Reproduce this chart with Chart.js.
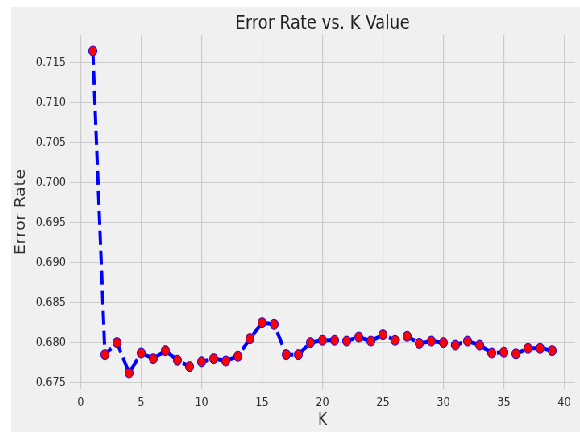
<!DOCTYPE html>
<html>
<head>
<meta charset="utf-8">
<script src="https://cdn.jsdelivr.net/npm/chart.js@4/dist/chart.umd.min.js"></script>
<style>
  html, body { margin: 0; padding: 0; background: #ffffff; overflow: hidden; }
  /* the reference figure is drawn wide and shown squeezed horizontally */
  #wrap {
    position: absolute; left: 11px; top: 7px;
    width: 706px; height: 425px;
    background: #f0f0f0;
    transform: scaleX(0.80595);
    transform-origin: 0 0;
  }
  canvas { display: block; }
</style>
</head>
<body>
<div id="wrap"><canvas id="errorChart" width="706" height="425"></canvas></div>
<script>
// K values and measured error rates
const kValues = [1, 2, 3, 4, 5, 6, 7, 8, 9, 10, 11, 12, 13, 14, 15, 16, 17, 18, 19, 20,
                 21, 22, 23, 24, 25, 26, 27, 28, 29, 30, 31, 32, 33, 34, 35, 36, 37, 38, 39];
const errorRates = [0.7165, 0.6785, 0.6800, 0.6762, 0.6787, 0.6780, 0.6790, 0.6778, 0.6770, 0.6776,
                    0.6780, 0.6777, 0.6783, 0.6805, 0.6825, 0.6823, 0.6785, 0.6785, 0.6800, 0.6803,
                    0.6803, 0.6802, 0.6807, 0.6802, 0.6810, 0.6803, 0.6808, 0.6799, 0.6802, 0.6800,
                    0.6797, 0.6802, 0.6797, 0.6787, 0.6788, 0.6786, 0.6793, 0.6793, 0.6790];
const xTicks = [0, 5, 10, 15, 20, 25, 30, 35, 40];
const yTicks = [0.675, 0.680, 0.685, 0.690, 0.695, 0.700, 0.705, 0.710, 0.715];

const fontFamily = "'DejaVu Sans', sans-serif";
const textColor = '#2e2e2e';
const gridColor = '#cbcbcb';

const points = kValues.map((k, i) => ({ x: k, y: errorRates[i] }));

new Chart(document.getElementById('errorChart').getContext('2d'), {
    type: 'line',
    data: {
        datasets: [{
            label: 'Error Rate',
            data: points,
            borderColor: '#0000ff',
            borderWidth: 4,
            borderDash: [14, 6],
            fill: false,
            tension: 0,
            pointRadius: 5,
            pointBackgroundColor: '#ff0000',
            pointBorderColor: '#0000ff',
            pointBorderWidth: 1
        }]
    },
    options: {
        responsive: false,
        animation: false,
        layout: { padding: { left: 0, right: 4, top: 0, bottom: 0 } },
        plugins: {
            legend: { display: false },
            tooltip: { enabled: false },
            title: {
                display: true,
                fullSize: false,
                text: 'Error Rate vs. K Value',
                color: '#222222',
                font: { family: fontFamily, size: 20, weight: 'normal', lineHeight: 1.15 },
                padding: { top: 5, bottom: 0 }
            }
        },
        scales: {
            x: {
                type: 'linear',
                min: -0.9,
                max: 40.9,
                border: { display: false },
                grid: { color: gridColor, lineWidth: 1.2, drawTicks: false },
                afterBuildTicks: scale => { scale.ticks = xTicks.map(v => ({ value: v })); },
                afterFit: scale => { scale.height = 43; },
                ticks: {
                    color: textColor,
                    padding: 6,
                    font: { family: fontFamily, size: 13 },
                    callback: v => String(v)
                },
                title: {
                    display: true,
                    text: 'K',
                    color: textColor,
                    font: { family: fontFamily, size: 17 },
                    padding: { top: 0, bottom: 1 }
                }
            },
            y: {
                type: 'linear',
                min: 0.6742,
                max: 0.7185,
                border: { display: false },
                grid: { color: gridColor, lineWidth: 1, drawTicks: false },
                afterBuildTicks: scale => { scale.ticks = yTicks.map(v => ({ value: v })); },
                afterFit: scale => { scale.width = 73; },
                ticks: {
                    color: textColor,
                    padding: 5,
                    font: { family: fontFamily, size: 13 },
                    callback: v => Number(v).toFixed(3)
                },
                title: {
                    display: true,
                    text: 'Error Rate',
                    color: textColor,
                    font: { family: fontFamily, size: 17 },
                    padding: { top: 2, bottom: 0 }
                }
            }
        }
    }
});
</script>
</body>
</html>
